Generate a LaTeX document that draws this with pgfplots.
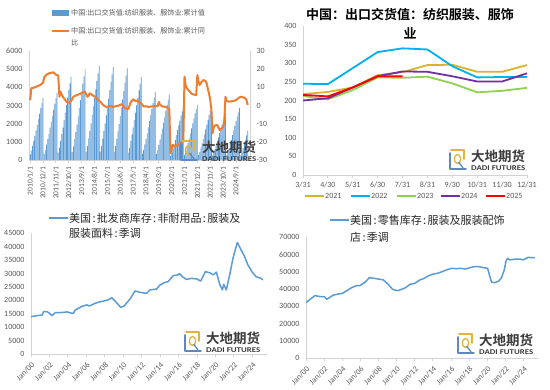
\documentclass[border=0pt]{standalone}
\usepackage{fontspec}
\setmainfont{Carlito}
\newfontfamily\cjk{Noto Sans CJK SC}[BoldFont={Noto Sans CJK SC Bold}]
\usepackage{pgfplots}
\pgfplotsset{compat=1.18}
\usepackage{graphicx}
\definecolor{barblue}{RGB}{91,155,213}
\definecolor{orng}{RGB}{237,125,49}
\definecolor{c21}{RGB}{214,182,40}
\definecolor{c22}{RGB}{0,176,240}
\definecolor{c23}{RGB}{146,208,80}
\definecolor{c24}{RGB}{112,48,160}
\definecolor{c25}{RGB}{255,0,0}
\definecolor{axgray}{RGB}{210,210,210}
\definecolor{lblgray}{RGB}{89,89,89}
\definecolor{txtdark}{RGB}{38,38,38}
\definecolor{logogold}{RGB}{225,178,60}
\definecolor{logoblue}{RGB}{95,135,195}
\definecolor{logotext}{RGB}{60,60,60}
\pgfplotsset{base/.style={
  scale only axis,
  axis line style={-, draw=axgray, line width=0.8pt},
  tick style={draw=axgray, line width=0.8pt},
  tick align=outside,
  major tick length=3pt,
  ytick style={draw=none},
  ticklabel style={font=\fontsize{8}{9}\selectfont, text=lblgray},
  /pgf/number format/assume math mode=true,
  /pgf/number format/1000 sep={},
  scaled y ticks=false,
  axis x line*=bottom, axis y line*=left,
}}
\newcommand{\logo}[2]{%
  \begin{scope}[shift={(#1,390-#2)}]
    \draw[logogold, line width=1.8pt, line cap=round, line join=round] (2,-1) -- (15,-1) -- (15,-10);
    \draw[logoblue, line width=1.8pt, line cap=round, line join=round] (1,-4) -- (1,-20) -- (17,-20);
    \draw[logogold, line width=1.3pt] (8.5,-10) ellipse (3.2 and 4.5);
    \draw[logoblue, line width=1.3pt] (9.5,-13) -- (14,-19);
    \node[anchor=north west, inner sep=0, text=logotext] at (22,-1) {\cjk\bfseries\fontsize{13.5}{14}\selectfont 大地期货};
    \node[anchor=north west, inner sep=0, text=logotext] at (22,-17) {\resizebox{54pt}{4.8pt}{\bfseries DADI FUTURES}};
  \end{scope}}
\newcommand{\cc}{\hspace{0.12em}:\hspace{0.12em}}
\begin{document}
\begin{tikzpicture}[x=1pt,y=1pt]
\useasboundingbox (0,0) rectangle (550,390);
\fill[white] (0,0) rectangle (550,390);
% ---------------- Panel 1 ----------------
\begin{axis}[base, at={(29pt,230pt)}, anchor=south west, width=221pt, height=109pt,
  xmin=-1, xmax=188, ymin=0, ymax=6000, ytick={0,1000,...,6000},
  xtick={0,11,...,176},
  xticklabels={2010/1/1,2010/12/1,2011/11/1,2012/10/1,2013/9/1,2014/8/1,2015/7/1,2016/6/1,2017/5/1,2018/4/1,2019/3/1,2020/2/1,2021/1/1,2021/12/1,2022/11/1,2023/10/1,2024/9/1},
  x tick label style={rotate=90, anchor=east, font=\fontsize{7.5}{8}\selectfont}]
\addplot[ybar, bar width=0.6, fill=barblue, draw=none] table[row sep=\\] {
x y\\
0 306\\ 1 510\\ 2 782\\ 3 1054\\ 4 1326\\ 5 1632\\ 6 1938\\ 7 2244\\ 8 2550\\ 9 2856\\ 10 3128\\ 11 3400\\
12 333\\ 13 555\\ 14 851\\ 15 1147\\ 16 1443\\ 17 1776\\ 18 2109\\ 19 2442\\ 20 2775\\ 21 3108\\ 22 3404\\ 23 3700\\
24 412\\ 25 687\\ 26 1053\\ 27 1420\\ 28 1786\\ 29 2198\\ 30 2611\\ 31 3023\\ 32 3435\\ 33 3847\\ 34 4214\\ 35 4580\\
36 450\\ 37 750\\ 38 1150\\ 39 1550\\ 40 1950\\ 41 2400\\ 42 2850\\ 43 3300\\ 44 3750\\ 45 4200\\ 46 4600\\ 47 5000\\
48 466\\ 49 777\\ 50 1191\\ 51 1606\\ 52 2020\\ 53 2486\\ 54 2953\\ 55 3419\\ 56 3885\\ 57 4351\\ 58 4766\\ 59 5180\\
60 461\\ 61 768\\ 62 1178\\ 63 1587\\ 64 1997\\ 65 2458\\ 66 2918\\ 67 3379\\ 68 3840\\ 69 4301\\ 70 4710\\ 71 5120\\
72 455\\ 73 758\\ 74 1162\\ 75 1566\\ 76 1970\\ 77 2424\\ 78 2879\\ 79 3333\\ 80 3788\\ 81 4242\\ 82 4646\\ 83 5050\\
84 410\\ 85 684\\ 86 1049\\ 87 1414\\ 88 1778\\ 89 2189\\ 90 2599\\ 91 3010\\ 92 3420\\ 93 3830\\ 94 4195\\ 95 4560\\
96 338\\ 97 563\\ 98 863\\ 99 1163\\ 100 1463\\ 101 1800\\ 102 2138\\ 103 2475\\ 104 2813\\ 105 3150\\ 106 3450\\ 107 3750\\
108 324\\ 109 540\\ 110 828\\ 111 1116\\ 112 1404\\ 113 1728\\ 114 2052\\ 115 2376\\ 116 2700\\ 117 3024\\ 118 3312\\ 119 3600\\
120 240\\ 121 395\\ 122 610\\ 123 850\\ 124 1100\\ 125 1380\\ 126 1650\\ 127 1910\\ 128 2170\\ 129 2440\\ 130 2680\\ 131 2900\\
132 275\\ 133 458\\ 134 702\\ 135 946\\ 136 1190\\ 137 1464\\ 138 1739\\ 139 2013\\ 140 2288\\ 141 2562\\ 142 2806\\ 143 3050\\
144 266\\ 145 443\\ 146 679\\ 147 915\\ 148 1151\\ 149 1416\\ 150 1682\\ 151 1947\\ 152 2213\\ 153 2478\\ 154 2714\\ 155 2950\\
156 234\\ 157 390\\ 158 598\\ 159 806\\ 160 1014\\ 161 1248\\ 162 1482\\ 163 1716\\ 164 1950\\ 165 2184\\ 166 2392\\ 167 2600\\
168 257\\ 169 428\\ 170 656\\ 171 884\\ 172 1112\\ 173 1368\\ 174 1625\\ 175 1881\\ 176 2138\\ 177 2394\\ 178 2622\\ 179 2850\\
180 255\\ 181 430\\ 182 655\\ 183 880\\ 184 1110\\ 185 1360\\ 186 1620\\
};
\end{axis}
\begin{axis}[base, at={(29pt,230pt)}, anchor=south west, width=221pt, height=109pt,
  xmin=-1, xmax=188, ymin=-30, ymax=30, ytick={-30,-20,...,30}, xtick=\empty,
  axis y line*=right, axis x line=none]
\addplot[orng, line width=2pt, line join=round] table[row sep=\\] {
x y\\
0 3\\ 1 9.5\\ 3 9.8\\ 5 10.3\\ 7 10.8\\ 9 11.5\\ 11 12.5\\ 12 15.5\\ 14 17\\ 16 17.7\\ 18 18\\ 20 18.3\\ 21 17.5\\ 22 17\\ 24 16.5\\
25 4.8\\ 26 7.6\\ 27 6\\ 28 4.8\\ 30 3\\ 31 2.1\\ 33 1.2\\ 35 2.5\\ 37 4.8\\ 39 5.5\\ 41 6\\ 43 6.5\\ 45 7.3\\ 47 7.5\\ 48 6\\ 49 4.8\\
50 5.5\\ 51 6.7\\ 53 5.8\\ 55 5\\ 57 4\\ 59 2.5\\ 60 2.1\\ 62 0.5\\ 63 0\\ 65 -0.8\\ 67 -0.5\\ 69 -0.3\\ 71 -0.8\\ 73 -0.4\\ 75 -0.2\\
77 0.3\\ 78 0.7\\ 80 -0.5\\ 81 -1.5\\ 83 -1.8\\ 84 -2\\ 85 0\\ 86 1.8\\ 88 3.4\\ 90 2.5\\ 92 2.5\\ 94 1.5\\ 95 1.2\\ 97 -0.6\\ 99 -0.4\\
101 -0.8\\ 103 -0.6\\ 105 -0.5\\ 107 -0.3\\ 109 -0.5\\ 110 2\\ 111 0.5\\ 113 -0.5\\ 115 -0.7\\ 117 -1\\ 118 -1.5\\ 119 -2\\
120 -26.3\\ 121 -24\\ 122 -21.7\\ 124 -22.5\\ 126 -21.7\\ 128 -21\\ 130 -19.9\\ 131 -19\\ 132 15.9\\ 133 11\\ 134 9.5\\ 136 8\\ 138 6.5\\
140 6\\ 142 5.8\\ 143 16.8\\ 144 13\\ 145 11.3\\ 146 12.5\\ 148 14\\ 150 13.5\\ 151 12\\ 152 9\\ 153 6.5\\ 154 3\\ 155 -2.5\\
156 -15.3\\ 157 -12\\ 158 -11\\ 160 -10.7\\ 162 -13.5\\ 164 -12.5\\ 165 -11.7\\ 166 -9\\ 167 4.8\\ 168 2.5\\ 170 2.1\\ 172 2.3\\
174 2.5\\ 176 3\\ 178 4\\ 180 4.8\\ 182 4.5\\ 184 4\\ 185 3\\ 186 0.3\\
};
\end{axis}
% legend panel 1
\fill[barblue] (52,390-16) rectangle (69,390-10);
\node[anchor=west, inner sep=0, text=lblgray] at (71,390-13) {\cjk\fontsize{7.1}{9}\selectfont 中国:出口交货值:纺织服装、服饰业:累计值};
\draw[orng, line width=2pt] (52,390-31) -- (69,390-31);
\node[anchor=west, inner sep=0, text=lblgray] at (71,390-31) {\cjk\fontsize{7.1}{9}\selectfont 中国:出口交货值:纺织服装、服饰业:累计同};
\node[anchor=west, inner sep=0, text=lblgray] at (71,390-43) {\cjk\fontsize{7.1}{9}\selectfont 比};
\logo{180}{140}
% ---------------- Panel 2 ----------------
\begin{axis}[base, at={(303pt,215pt)}, anchor=south west, width=224pt, height=149pt,
  xmin=0, xmax=9, ymin=0, ymax=400, ytick={0,50,...,400},
  xtick={0,...,9}, xticklabels={3/31,4/30,5/31,6/30,7/31,8/31,9/30,10/31,11/30,12/31}]
\addplot[c21, line width=1.8pt] table[row sep=\\] {x y\\ 0 217\\ 1 223\\ 2 235\\ 3 268\\ 4 276\\ 5 295\\ 6 296\\ 7 277\\ 8 277\\ 9 295\\};
\addplot[c22, line width=1.8pt] table[row sep=\\] {x y\\ 0 245\\ 1 244\\ 2 287\\ 3 330\\ 4 340\\ 5 337\\ 6 292\\ 7 262\\ 8 263\\ 9 263\\};
\addplot[c23, line width=1.8pt] table[row sep=\\] {x y\\ 0 212\\ 1 203\\ 2 228\\ 3 262\\ 4 261\\ 5 264\\ 6 246\\ 7 222\\ 8 226\\ 9 234\\};
\addplot[c24, line width=1.8pt] table[row sep=\\] {x y\\ 0 200\\ 1 206\\ 2 235\\ 3 265\\ 4 278\\ 5 277\\ 6 265\\ 7 251\\ 8 251\\ 9 273\\};
\addplot[c25, line width=1.8pt] table[row sep=\\] {x y\\ 0 215\\ 1 211\\ 2 235\\ 3 265\\ 4 265\\};
\end{axis}
\node[text=black] at (410,390-15) {\cjk\bfseries\fontsize{13}{15}\selectfont 中国：出口交货值：纺织服装、服饰};
\node[text=black] at (410,390-33) {\cjk\bfseries\fontsize{13}{15}\selectfont 业};
\foreach \xx/\col/\lab in {305/c21/2021, 351/c22/2022, 397/c23/2023, 441/c24/2024, 486/c25/2025}{
  \draw[\col, line width=1.8pt] (\xx,390-196) -- (\xx+19,390-196);
  \node[anchor=west, inner sep=0, text=lblgray] at (\xx+20,390-196) {\fontsize{8}{9}\selectfont \lab};
}
\logo{449}{149}
% ---------------- Panel 3 ----------------
\begin{axis}[base, at={(31pt,36pt)}, anchor=south west, width=236pt, height=120.7pt,
  xmin=2000, xmax=2025.6, ymin=0, ymax=45000, ytick={0,5000,...,45000},
  xtick={2000,2002,...,2024},
  xticklabels={Jan/00,Jan/02,Jan/04,Jan/06,Jan/08,Jan/10,Jan/12,Jan/14,Jan/16,Jan/18,Jan/20,Jan/22,Jan/24},
  x tick label style={rotate=45, anchor=north east, font=\fontsize{8}{9}\selectfont}]
\addplot[barblue, line width=1.5pt, line join=round] table[row sep=\\] {
x y\\
2000.0 13900\\ 2000.65 14300\\ 2001.2 14500\\ 2001.37 15800\\ 2001.73 15800\\ 2002.0 15200\\ 2002.27 14300\\ 2002.63 15400\\
2003.53 15500\\ 2003.9 15700\\ 2004.43 15200\\ 2004.6 15200\\ 2004.8 16400\\ 2005.5 17700\\ 2006.05 18300\\ 2006.35 17900\\
2006.95 18900\\ 2007.3 19300\\ 2007.96 19800\\ 2008.4 20200\\ 2008.76 21000\\ 2009.1 19800\\ 2009.73 17400\\ 2010.1 17900\\ 2010.74 20500\\
2011.03 22000\\ 2011.28 23500\\ 2011.82 23000\\ 2012.54 22600\\ 2012.9 23900\\ 2013.62 24200\\ 2013.98 25700\\ 2014.52 26700\\
2014.88 27000\\ 2015.42 29200\\ 2015.96 29500\\ 2016.1 30000\\ 2016.43 28800\\ 2016.86 27800\\ 2017.4 28200\\ 2017.95 28000\\ 2018.41 27200\\
2018.92 30700\\ 2019.39 30300\\ 2019.75 29500\\ 2020.11 30500\\ 2020.47 26000\\ 2020.76 23900\\ 2020.9 26000\\ 2021.19 23900\\
2021.55 29500\\ 2021.91 35700\\ 2022.38 41600\\ 2022.7 39400\\ 2023.17 36300\\ 2023.53 33200\\ 2024.0 30500\\ 2024.43 28800\\
2024.97 28200\\ 2025.15 27600\\
};
\end{axis}
\draw[barblue, line width=2pt] (49,390-218) -- (68,390-218);
\node[anchor=west, inner sep=0, text=txtdark] at (69,390-218) {\cjk\fontsize{11}{12}\selectfont 美国\cc 批发商库存\cc 非耐用品\cc 服装及};
\node[anchor=west, inner sep=0, text=txtdark] at (69,390-233) {\cjk\fontsize{11}{12}\selectfont 服装面料\cc 季调};
\logo{184}{331}
% ---------------- Panel 4 ----------------
\begin{axis}[base, at={(306pt,32pt)}, anchor=south west, width=232pt, height=120.7pt,
  xmin=2000, xmax=2025.6, ymin=0, ymax=70000, ytick={0,10000,...,70000},
  xtick={2000,2002,...,2024},
  xticklabels={Jan/00,Jan/02,Jan/04,Jan/06,Jan/08,Jan/10,Jan/12,Jan/14,Jan/16,Jan/18,Jan/20,Jan/22,Jan/24},
  x tick label style={rotate=45, anchor=north east, font=\fontsize{8}{9}\selectfont}]
\addplot[barblue, line width=1.5pt, line join=round] table[row sep=\\] {
x y\\
2000.0 32100\\ 2000.44 34000\\ 2000.99 36200\\ 2001.54 35600\\ 2002.02 35600\\ 2002.28 34000\\ 2003.01 36500\\ 2003.57 37100\\
2004.01 37500\\ 2004.49 39000\\ 2005.04 40800\\ 2005.59 42000\\ 2005.96 42000\\ 2006.51 43900\\ 2006.99 46600\\ 2007.5 46200\\
2007.98 45800\\ 2008.53 45300\\ 2009.08 42700\\ 2009.56 39800\\ 2010.11 39000\\ 2010.55 39800\\ 2010.99 40800\\ 2011.47 42700\\
2012.02 43300\\ 2012.57 45300\\ 2013.05 46200\\ 2013.49 47600\\ 2014.04 48700\\ 2014.52 49100\\ 2015.04 50100\\ 2015.51 51100\\
2016.07 52000\\ 2016.6 51800\\ 2017.06 52000\\ 2017.6 51600\\ 2018.09 52400\\ 2018.57 53000\\ 2019.08 53000\\ 2019.56 52400\\ 2020.04 52000\\
2020.29 47200\\ 2020.48 43900\\ 2020.85 43700\\ 2021.29 44700\\ 2021.58 46600\\ 2021.88 51100\\ 2022.06 55900\\ 2022.24 57800\\
2022.5 56900\\ 2023.05 57300\\ 2023.6 57400\\ 2023.97 56900\\ 2024.52 58400\\ 2024.89 58200\\ 2025.26 58200\\
};
\end{axis}
\draw[barblue, line width=2pt] (330,390-220) -- (349,390-220);
\node[anchor=west, inner sep=0, text=txtdark] at (350,390-220) {\cjk\fontsize{11}{12}\selectfont 美国\cc 零售库存\cc 服装及服装配饰};
\node[anchor=west, inner sep=0, text=txtdark] at (350,390-237) {\cjk\fontsize{11}{12}\selectfont 店\cc 季调};
\logo{457}{333}
\end{tikzpicture}
\end{document}
